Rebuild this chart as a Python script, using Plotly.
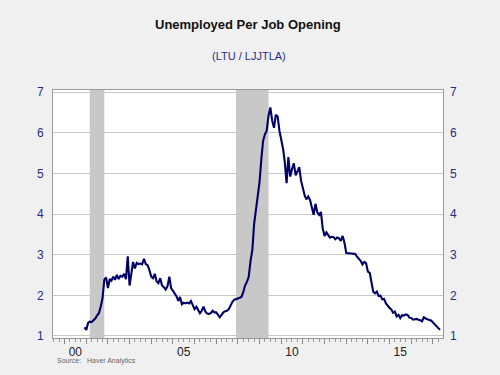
import pandas as pd
import plotly.graph_objects as go

# Monthly data, Dec 2000 onward (unemployed per job opening)
start_month = "2000-12-01"
values = [
    1.21, 1.15, 1.32, 1.35, 1.34, 1.38, 1.43, 1.50, 1.56, 1.72, 1.92, 2.38,
    2.44, 2.18, 2.40, 2.36, 2.46, 2.38, 2.50, 2.40, 2.48, 2.46, 2.53, 2.40,
    2.96, 2.24, 2.60, 2.82, 2.66, 2.80, 2.77, 2.78, 2.76, 2.90, 2.77, 2.74,
    2.62, 2.46, 2.42, 2.53, 2.34, 2.30, 2.42, 2.24, 2.20, 2.14, 2.22, 2.46,
    2.18, 2.12, 2.06, 1.98, 1.86, 1.96, 1.78, 1.82, 1.80, 1.82, 1.80, 1.86,
    1.76, 1.66, 1.72, 1.64, 1.56, 1.62, 1.72, 1.60, 1.55, 1.54, 1.56, 1.62,
    1.58, 1.58, 1.51, 1.46, 1.52, 1.58, 1.61, 1.62, 1.66, 1.76, 1.84, 1.89,
    1.90, 1.92, 1.94, 1.96, 2.08, 2.24, 2.33, 2.45, 2.84, 3.12, 3.76, 4.10,
    4.44, 4.80, 5.38, 5.80, 5.96, 6.05, 6.42, 6.62, 6.30, 6.12, 6.44, 6.40,
    6.05, 5.86, 5.60, 5.28, 4.76, 5.40, 4.92, 5.10, 5.25, 4.95, 5.05, 5.15,
    4.82, 4.60, 4.45, 4.36, 4.43, 4.35, 4.18, 3.98, 4.25, 4.04, 3.98, 4.05,
    3.65, 3.46, 3.55, 3.48, 3.42, 3.44, 3.43, 3.38, 3.42, 3.40, 3.34, 3.46,
    3.30, 3.04, 3.04, 3.04, 3.03, 3.02, 3.02, 2.95, 2.90, 2.85, 2.76, 2.82,
    2.79, 2.58, 2.55, 2.30, 2.09, 2.05, 2.09, 1.98, 1.99, 1.90, 1.91, 1.80,
    1.74, 1.69, 1.65, 1.57, 1.60, 1.48, 1.52, 1.44, 1.51, 1.50, 1.53, 1.52,
    1.45, 1.44, 1.40, 1.41, 1.42, 1.40, 1.39, 1.36, 1.46, 1.43, 1.40, 1.39,
    1.38, 1.33, 1.27, 1.23, 1.19, 1.15,
]
dates = pd.date_range(start_month, periods=len(values), freq="MS")

recession_starts = ["2001-03-01", "2007-12-01"]
recession_ends = ["2001-11-01", "2009-06-01"]

year_ticks = [f"{y}-01-01" for y in range(2000, 2018)]
label_vals = ["2000-07-01", "2005-07-01", "2010-07-01", "2015-07-01"]
label_text = ["00", "05", "10", "15"]
y_ticks = [1, 2, 3, 4, 5, 6, 7]

navy = "#000066"
label_navy = "#2b2b83"
x_range = ["1999-06-20", "2017-06-20"]
y_range = [0.95, 7.05]

L, R, T, B, W, H = 53, 57, 90, 37, 500, 375
plot_w = W - L - R
plot_h = H - T - B


def px_x(x):
    return (x - L) / plot_w


def px_y(y):
    return (H - B - y) / plot_h


fig = go.Figure()
fig.add_trace(go.Scatter(x=dates, y=values, mode="lines",
                         line=dict(color=navy, width=2.1), hoverinfo="skip",
                         showlegend=False))
fig.add_trace(go.Scatter(x=dates, y=values, mode="lines", xaxis="x2", yaxis="y2",
                         line=dict(color="rgba(0,0,0,0)", width=0), hoverinfo="skip",
                         showlegend=False))

for s, e in zip(recession_starts, recession_ends):
    fig.add_shape(type="rect", xref="x", yref="paper", x0=s, x1=e, y0=0, y1=1,
                  fillcolor="#c8c8c8", line_width=0, layer="below")

fig.update_layout(
    width=W, height=H,
    margin=dict(l=L, r=R, t=T, b=B, autoexpand=False),
    paper_bgcolor="#f0f0f0", plot_bgcolor="white",
    font=dict(family="Arial, Liberation Sans, sans-serif"),
    xaxis=dict(type="date", range=x_range, tickvals=year_ticks, showticklabels=False,
               ticks="outside", ticklen=5, tickcolor="#888", tickwidth=1,
               minor=dict(dtick="M3", tick0="2000-01-01", ticks="outside", ticklen=3,
                          tickcolor="#999", showgrid=False),
               showgrid=False, showline=True, linecolor="#999", linewidth=1,
               mirror=True, zeroline=False, automargin=False),
    xaxis2=dict(type="date", range=x_range, overlaying="x", side="bottom",
                tickvals=label_vals, ticktext=label_text, ticks="", showgrid=False,
                showline=False, zeroline=False, ticklabelstandoff=5, automargin=False,
                tickfont=dict(size=12, color="#222")),
    yaxis=dict(range=y_range, tickvals=y_ticks, showgrid=True, gridcolor="#c8c8c8",
               gridwidth=1, ticks="", showline=True, linecolor="#999", mirror=True,
               zeroline=False, tickfont=dict(size=12, color=label_navy),
               ticklabelstandoff=6, automargin=False),
    yaxis2=dict(range=y_range, tickvals=y_ticks, overlaying="y", side="right",
                showgrid=False, ticks="", showline=False, zeroline=False,
                tickfont=dict(size=12, color=label_navy), ticklabelstandoff=6,
                automargin=False),
    annotations=[
        dict(text="<b>Unemployed Per Job Opening</b>", x=px_x(248),
             xref="paper", y=px_y(24), yref="paper", xanchor="center", yanchor="middle",
             showarrow=False, font=dict(size=13, color="#111")),
        dict(text="(LTU / LJJTLA)", x=px_x(249), y=px_y(56), xref="paper", yref="paper",
             xanchor="center", yanchor="middle",
             showarrow=False, font=dict(size=11, color="#2b2b8c")),
        dict(text="Source:   Haver Analytics", x=px_x(55), y=px_y(361), xref="paper",
             yref="paper", xanchor="left", yanchor="middle",
             showarrow=False, font=dict(size=7, color="#666")),
    ],
)

fig.write_html(
    "out.html",
    config={"displayModeBar": False},
    post_script="document.body.style.margin='0';document.body.style.background='#f0f0f0';",
)
